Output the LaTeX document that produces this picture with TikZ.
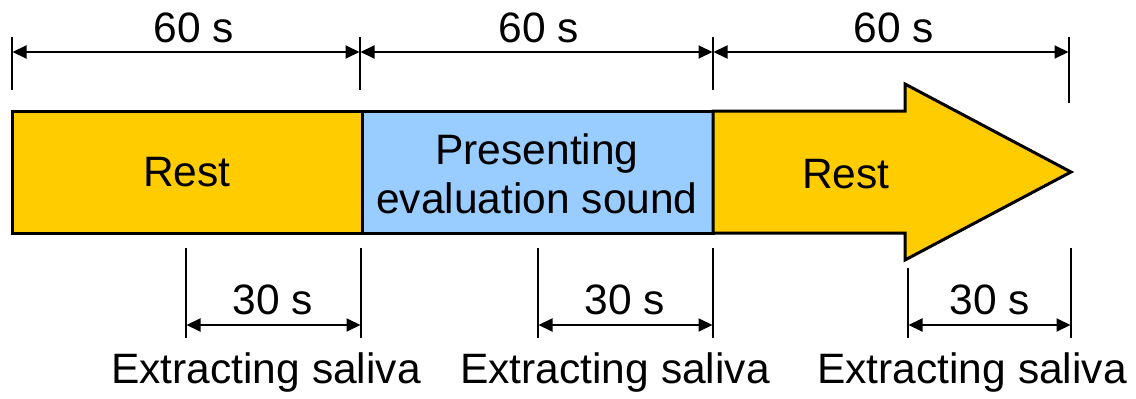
\documentclass[tikz,border=0pt]{standalone}
\usepackage{fontspec}
\setmainfont{Liberation Sans}
\usetikzlibrary{arrows.meta}
\definecolor{restyellow}{HTML}{FFCC00}
\definecolor{soundblue}{HTML}{99CCFF}
\tikzset{
  phase/.style={draw=black, line width=3pt, line join=miter},
  tick/.style={draw=black, line width=2.2pt},
  dim/.style={draw=black, line width=2pt, {Triangle[length=14pt,width=13pt]}-{Triangle[length=14pt,width=13pt]}, shorten <=0.5pt, shorten >=0.5pt},
  lbl/.style={inner sep=0pt, font=\fontsize{42.5}{47}\selectfont},
}
\begin{document}
\begin{tikzpicture}[x=1pt,y=-1pt]
\useasboundingbox (0,0) rectangle (1136,399);

% phases
\filldraw[phase, fill=restyellow] (12,111) rectangle (362,233);
\filldraw[phase, fill=soundblue] (362,111) rectangle (713,233);
\filldraw[phase, fill=restyellow] (713,111) -- (905,111) -- (905,84) -- (1071,172)
  -- (905,260) -- (905,233) -- (713,233) -- cycle;
\node[lbl] (rest1) at (187,172) {Rest};
\node[lbl, align=center, font=\fontsize{42.5}{49}\selectfont] (sound) at (537,174) {Presenting\\evaluation sound};
\node[lbl] (rest2) at (846,174) {Rest};

% upper dimension ticks
\coordinate (t0) at (12,52);  \coordinate (t1) at (360,52);
\coordinate (t2) at (713,52); \coordinate (t3) at (1069,52);
\draw[tick] (12,37) -- (12,90);
\draw[tick] (360,37) -- (360,90);
\draw[tick] (713,37) -- (713,90);
\draw[tick] (1069,37) -- (1069,103);
\draw[dim] (t0) -- (t1);
\draw[dim] (t1) -- (t2);
\draw[dim] (t2) -- (t3);
\node[lbl] (d1) at (194,28) {60 s};
\node[lbl] (d2) at (539,28) {60 s};
\node[lbl] (d3) at (894,28) {60 s};

% lower dimension ticks
\coordinate (b1a) at (186,325); \coordinate (b1b) at (361,325);
\coordinate (b2a) at (538,325); \coordinate (b2b) at (713,325);
\coordinate (b3a) at (908,325); \coordinate (b3b) at (1071,325);
\draw[tick] (186,248) -- (186,338);
\draw[tick] (361,248) -- (361,338);
\draw[tick] (538,248) -- (538,338);
\draw[tick] (713,248) -- (713,338);
\draw[tick] (908,268) -- (908,338);
\draw[tick] (1071,248) -- (1071,338);
\draw[dim] (b1a) -- (b1b);
\draw[dim] (b2a) -- (b2b);
\draw[dim] (b3a) -- (b3b);
\node[lbl] (h1) at (273,300) {30 s};
\node[lbl] (h2) at (625,300) {30 s};
\node[lbl] (h3) at (990,300) {30 s};

\node[lbl] (s1) at (266,373) {Extracting saliva};
\node[lbl] (s2) at (615,373) {Extracting saliva};
\node[lbl] (s3) at (972,373) {Extracting saliva};
\end{tikzpicture}
\end{document}
